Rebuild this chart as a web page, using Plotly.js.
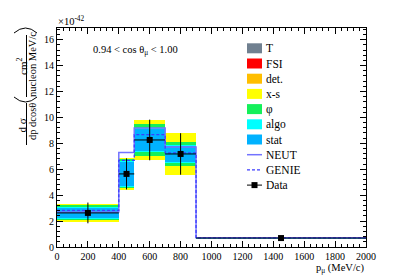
<!DOCTYPE html>
<html><head><meta charset="utf-8">
<script src="https://cdn.plot.ly/plotly-3.0.1.min.js"></script>
<style>body{margin:0;padding:0;background:#fff}#chart{width:407px;height:276px}</style>
</head><body><div id="chart"></div>
<script>
// ---- data (units of 1e-42 cm^2 / nucleon MeV/c) ----
const binEdges = [0, 400, 500, 700, 900, 2000];
const dataValues = [2.63, 5.64, 8.26, 7.18, 0.69];
const dataErrors = [0.8, 1.2, 1.57, 1.6, 0.05];
const neutValues = [2.70, 7.30, 9.19, 7.72, 0.72];
const genieValues = [2.83, 6.69, 8.67, 7.26, 0.70];
// band half-widths around data
const bandXs = [0.70, 1.22, 1.55, 1.61, 0.08];
const bandPhi = [0.58, 1.12, 1.22, 0.90, 0.07];
const bandAlgo = [0.46, 1.00, 0.92, 0.66, 0.05];
const bandStat = [0.41, 0.95, 0.87, 0.62, 0.03];
const legendLabels = ['T', 'FSI', 'det.', 'x-s', '\u03c6', 'algo', 'stat', 'NEUT', 'GENIE', 'Data'];

const FONT = "'Liberation Serif', 'Times New Roman', Times, serif";
const centers = [], widths = [], halfW = [];
for (let i = 0; i < binEdges.length - 1; i++) {
  centers.push((binEdges[i] + binEdges[i+1]) / 2);
  widths.push(binEdges[i+1] - binEdges[i]);
  halfW.push((binEdges[i+1] - binEdges[i]) / 2);
}
function band(err, color) {
  return {type: 'bar', x: centers, width: widths,
    base: dataValues.map((v, i) => v - err[i]),
    y: err.map(e => 2 * e),
    marker: {color: color, line: {width: 0}}, showlegend: false, hoverinfo: 'skip'};
}
const cols = {T: 'rgb(112,128,144)', FSI: 'rgb(255,0,0)', det: 'rgb(255,190,0)', xs: 'rgb(255,255,0)',
  phi: 'rgb(20,240,90)', algo: 'rgb(0,255,255)', stat: 'rgb(0,178,255)'};
const step = arr => arr.concat([arr[arr.length - 1]]);
const traces = [
  band(bandXs, cols.xs), band(bandPhi, cols.phi), band(bandAlgo, cols.algo), band(bandStat, cols.stat),
  {type: 'scatter', mode: 'lines', x: binEdges, y: step(neutValues), line: {shape: 'hv', color: 'rgb(115,115,255)', width: 1.5}, showlegend: false},
  {type: 'scatter', mode: 'lines', x: binEdges, y: step(genieValues), line: {shape: 'hv', color: 'rgb(60,60,255)', width: 1.3, dash: '3px,2px'}, showlegend: false},
  {type: 'scatter', mode: 'markers', x: centers, y: dataValues,
    marker: {symbol: 'square', size: 6, color: 'black'},
    error_y: {type: 'data', array: dataErrors, visible: true, color: 'black', thickness: 1, width: 0},
    error_x: {type: 'data', array: halfW, visible: true, color: 'black', thickness: 1, width: 0},
    showlegend: false}
];

const L = 57, T = 28, W = 309, H = 219;
const px = x => (x - L) / W, py = y => (T + H - y) / H;
const annotations = [], shapes = [];
function ann(text, x, y, opts) {
  annotations.push(Object.assign({text: text, x: px(x), y: py(y), xref: 'paper', yref: 'paper', showarrow: false,
    xanchor: 'center', yanchor: 'middle', font: {family: FONT, size: 10.5, color: 'black'}}, opts || {}));
}
ann('\u00d710<sup>-42</sup>', 56, 21, {xanchor: 'left'});
ann('0.94 &lt; cos \u03b8<sub>\u03bc</sub> &lt; 1.00', 91, 50, {xanchor: 'left', font: {family: FONT, size: 10.5, color: 'black'}});
ann('p<sub>\u03bc</sub> (MeV/c)', 366, 268, {xanchor: 'right'});
// y title pieces
ann('cm<sup>2</sup>', 22, 67, {textangle: -90, font: {family: FONT, size: 11, color: 'black'}});
ann('nucleon MeV/c', 32, 65, {textangle: -90, font: {family: FONT, size: 10.5, color: 'black'}});
ann('d \u03c3', 21.5, 126, {textangle: -90, font: {family: FONT, size: 11, color: 'black'}});
ann('dp dcos\u03b8', 32, 122, {textangle: -90, font: {family: FONT, size: 10.5, color: 'black'}});
const ln = {color: 'black', width: 1};
shapes.push({type: 'line', xref: 'paper', yref: 'paper', x0: px(26.5), x1: px(26.5), y0: py(35), y1: py(97), line: ln});
shapes.push({type: 'line', xref: 'paper', yref: 'paper', x0: px(26.5), x1: px(26.5), y0: py(103), y1: py(145), line: ln});
shapes.push({type: 'path', xref: 'paper', yref: 'paper', line: ln,
  path: `M ${px(14)},${py(33)} Q ${px(25.5)},${py(23)} ${px(37)},${py(33)}`});
shapes.push({type: 'path', xref: 'paper', yref: 'paper', line: ln,
  path: `M ${px(14)},${py(97)} Q ${px(25.5)},${py(107)} ${px(37)},${py(97)}`});
// manual legend
const legCols = [cols.T, cols.FSI, cols.det, cols.xs, cols.phi, cols.algo, cols.stat];
legendLabels.forEach((lab, i) => {
  const yc = 48.3 + 15.2 * i;
  if (i < 7) {
    shapes.push({type: 'rect', xref: 'paper', yref: 'paper', x0: px(247), x1: px(262), y0: py(yc - 5), y1: py(yc + 5),
      fillcolor: legCols[i], line: {width: 0}});
  } else if (i === 7) {
    shapes.push({type: 'line', xref: 'paper', yref: 'paper', x0: px(247), x1: px(262), y0: py(yc), y1: py(yc), line: {color: 'rgb(115,115,255)', width: 1.5}});
  } else if (i === 8) {
    shapes.push({type: 'line', xref: 'paper', yref: 'paper', x0: px(247), x1: px(262), y0: py(yc), y1: py(yc), line: {color: 'rgb(60,60,255)', width: 1.3, dash: '3px,2px'}});
  } else {
    shapes.push({type: 'line', xref: 'paper', yref: 'paper', x0: px(247), x1: px(262), y0: py(yc), y1: py(yc), line: {color: 'black', width: 1}});
    shapes.push({type: 'rect', xref: 'paper', yref: 'paper', x0: px(251.5), x1: px(257.5), y0: py(yc - 3), y1: py(yc + 3), fillcolor: 'black', line: {width: 0}});
  }
  ann(lab, 264, yc, {xanchor: 'left', font: {family: FONT, size: 11.5, color: 'black'}});
});

const axisCommon = {showgrid: false, zeroline: false, showline: true, linecolor: 'black', linewidth: 1,
  mirror: 'ticks', ticks: 'inside', ticklen: 6, tickwidth: 1, tickcolor: 'black',
  tickfont: {family: FONT, size: 10, color: 'black'}, fixedrange: true};
const layout = {
  width: 407, height: 276, margin: {l: L, r: 407 - L - W, t: T, b: 276 - T - H},
  paper_bgcolor: 'white', plot_bgcolor: 'white', barmode: 'overlay', bargap: 0, showlegend: false,
  font: {family: FONT, color: 'black'},
  xaxis: Object.assign({}, axisCommon, {range: [0, 2000], dtick: 200, tick0: 0,
    minor: {ticks: 'inside', ticklen: 3, dtick: 40, tickcolor: 'black', showgrid: false}}),
  yaxis: Object.assign({}, axisCommon, {range: [0, 16.9], dtick: 2, tick0: 0,
    minor: {ticks: 'inside', ticklen: 3, dtick: 0.4, tickcolor: 'black', showgrid: false}}),
  annotations: annotations, shapes: shapes
};
Plotly.newPlot('chart', traces, layout, {staticPlot: true, displayModeBar: false});
</script></body></html>
